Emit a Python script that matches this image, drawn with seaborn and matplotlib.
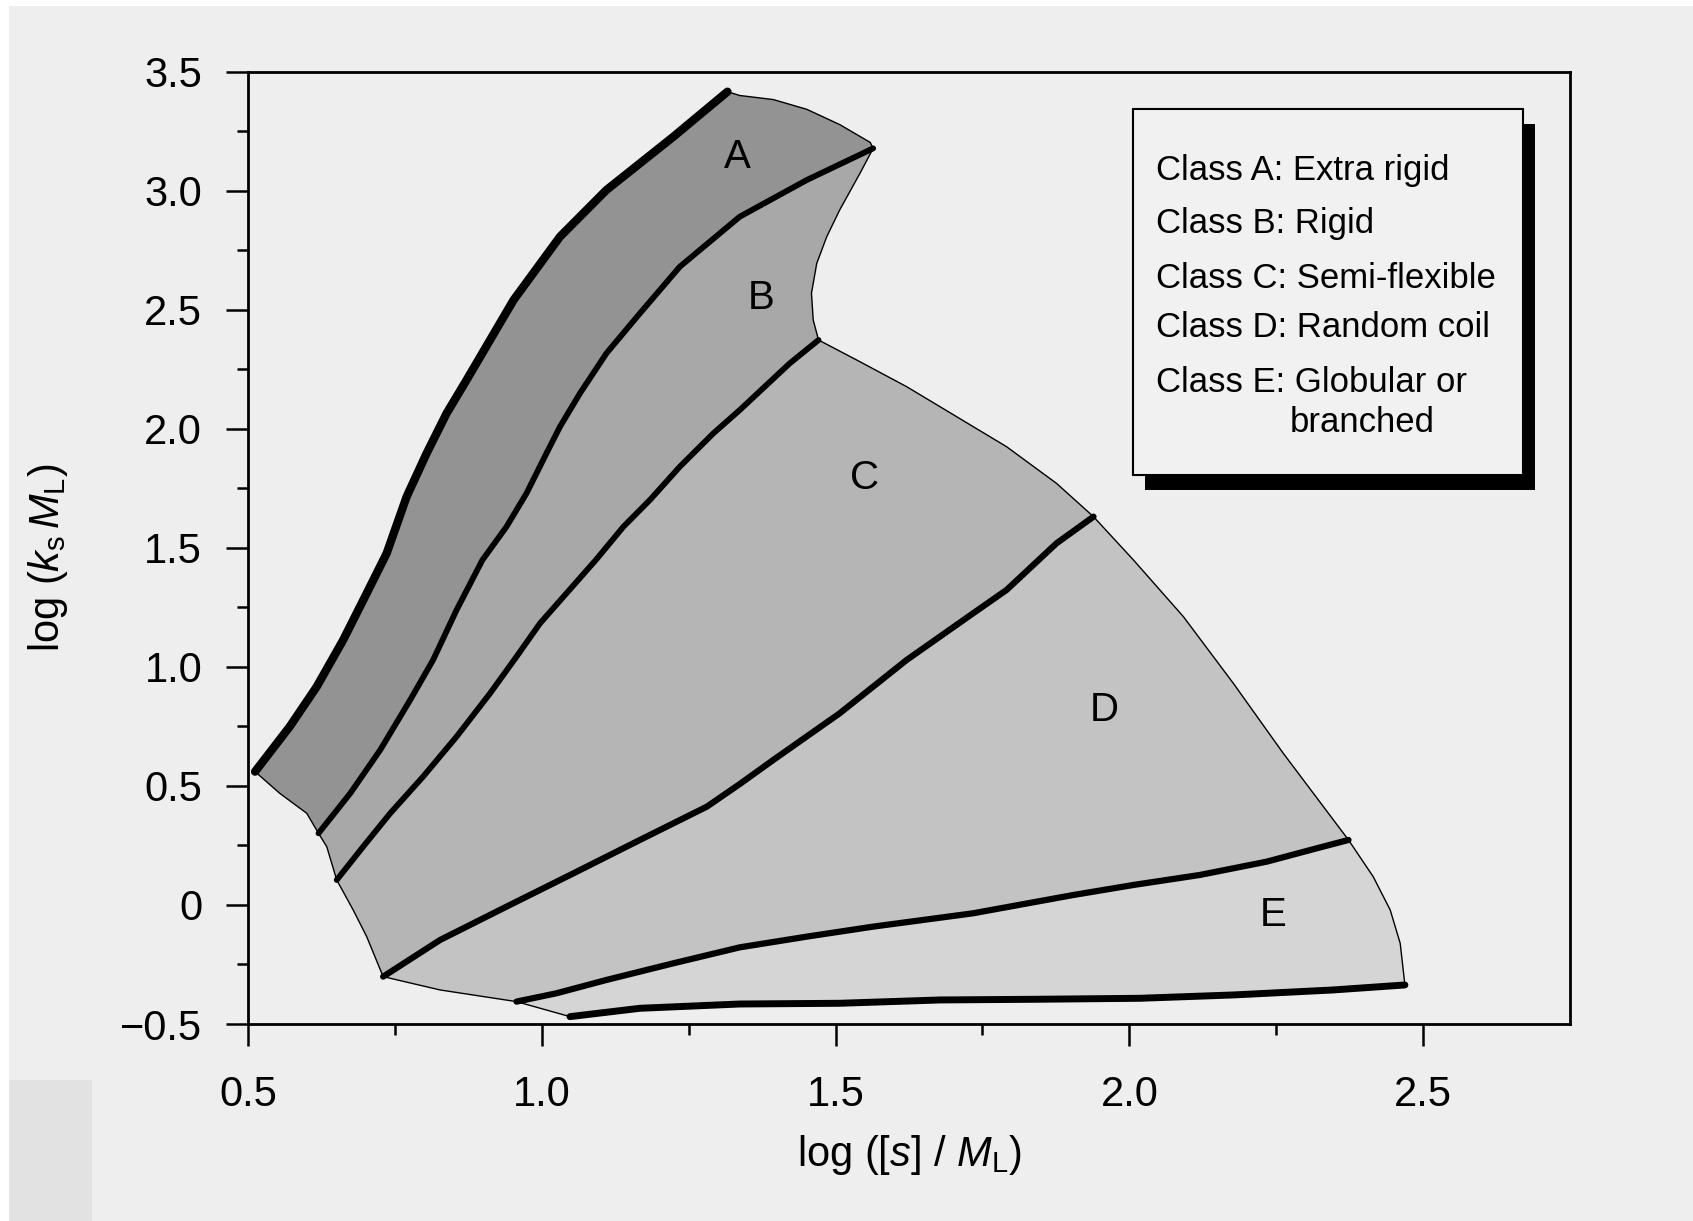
import numpy as np
import pandas as pd
import matplotlib
matplotlib.use('Agg')
import matplotlib.pyplot as plt
import seaborn as sns
from matplotlib.patches import Rectangle

# ---------------- data (data coordinates) ----------------
# thick boundary: outer left edge of class A (top tip -> bottom)
a_left_x = [1.316, 1.224, 1.110, 1.031, 0.952, 0.872, 0.838, 0.804, 0.770, 0.736, 0.702, 0.662, 0.617, 0.571, 0.512]
a_left_y = [3.416, 3.227, 3.003, 2.807, 2.541, 2.205, 2.065, 1.897, 1.715, 1.477, 1.309, 1.113, 0.917, 0.749, 0.560]
# thick boundary A/B (top -> bottom)
ab_x = [1.564, 1.451, 1.337, 1.235, 1.167, 1.110, 1.065, 1.031, 1.008, 0.974, 0.940, 0.899, 0.855, 0.815, 0.776, 0.725, 0.674, 0.620]
ab_y = [3.178, 3.045, 2.891, 2.681, 2.485, 2.317, 2.149, 2.009, 1.897, 1.729, 1.589, 1.449, 1.239, 1.029, 0.861, 0.651, 0.469, 0.301]
# thick boundary B/C (top -> bottom)
bc_x = [1.471, 1.422, 1.337, 1.292, 1.235, 1.184, 1.139, 1.092, 1.037, 0.997, 0.957, 0.912, 0.855, 0.798, 0.742, 0.696, 0.651]
bc_y = [2.373, 2.275, 2.079, 1.981, 1.841, 1.701, 1.589, 1.449, 1.295, 1.183, 1.043, 0.889, 0.707, 0.539, 0.385, 0.245, 0.105]
# thick boundary C/D (top right -> bottom left)
cd_x = [1.939, 1.876, 1.791, 1.734, 1.621, 1.507, 1.394, 1.337, 1.281, 1.167, 1.054, 0.940, 0.827, 0.730]
cd_y = [1.631, 1.519, 1.323, 1.225, 1.029, 0.805, 0.609, 0.508, 0.413, 0.273, 0.133, -0.007, -0.147, -0.301]
# thick boundary D/E (right -> left)
de_x = [2.373, 2.319, 2.234, 2.120, 2.007, 1.905, 1.734, 1.564, 1.451, 1.337, 1.224, 1.110, 1.025, 0.957]
de_y = [0.273, 0.238, 0.182, 0.126, 0.084, 0.042, -0.035, -0.091, -0.133, -0.178, -0.245, -0.315, -0.371, -0.406]
# thick lower edge of class E (right -> left)
ebot_x = [2.469, 2.347, 2.177, 2.018, 1.848, 1.678, 1.507, 1.337, 1.167, 1.048]
ebot_y = [-0.336, -0.357, -0.378, -0.392, -0.396, -0.399, -0.413, -0.416, -0.434, -0.469]

# thin outer edges, clockwise
atop_x = [1.316, 1.337, 1.394, 1.451, 1.507, 1.559, 1.564]
atop_y = [3.416, 3.400, 3.383, 3.342, 3.278, 3.203, 3.178]
bright_x = [1.564, 1.5415, 1.507, 1.485, 1.468, 1.459, 1.462, 1.471]
bright_y = [3.178, 3.073, 2.919, 2.807, 2.695, 2.569, 2.457, 2.373]
carc_x = [1.471, 1.536, 1.621, 1.706, 1.791, 1.876, 1.939]
carc_y = [2.373, 2.289, 2.177, 2.051, 1.925, 1.771, 1.631]
darc_x = [1.939, 2.007, 2.092, 2.177, 2.262, 2.373]
darc_y = [1.631, 1.449, 1.211, 0.931, 0.637, 0.273]
earc_x = [2.373, 2.415, 2.444, 2.461, 2.469]
earc_y = [0.273, 0.119, -0.021, -0.161, -0.336]
# thin lower-left edges
loa_x = [0.512, 0.554, 0.600, 0.620]
loa_y = [0.560, 0.469, 0.385, 0.301]
lob_x = [0.620, 0.634, 0.651]
lob_y = [0.301, 0.245, 0.105]
loc_x = [0.651, 0.679, 0.702, 0.730]
loc_y = [0.105, -0.021, -0.133, -0.301]
lod_x = [0.730, 0.827, 0.957]
lod_y = [-0.301, -0.357, -0.406]
loe_x = [0.957, 1.048]
loe_y = [-0.406, -0.469]

classes = ['A', 'B', 'C', 'D', 'E']
descriptions = ['Extra rigid', 'Rigid', 'Semi-flexible', 'Random coil', 'Globular or\nbranched']
label_x = [1.333, 1.374, 1.550, 1.958, 2.245]
label_y = [3.140, 2.548, 1.792, 0.819, -0.042]

x_ticks = [0.5, 1.0, 1.5, 2.0, 2.5]
x_ticklabels = ['0.5', '1.0', '1.5', '2.0', '2.5']
x_minor = [0.75, 1.25, 1.75, 2.25]
y_ticks = [-0.5, 0.0, 0.5, 1.0, 1.5, 2.0, 2.5, 3.0, 3.5]
y_ticklabels = ['\u22120.5', '0', '0.5', '1.0', '1.5', '2.0', '2.5', '3.0', '3.5']
y_minor = [-0.25, 0.25, 0.75, 1.25, 1.75, 2.25, 2.75, 3.25]

fill_colors = ['#939393', '#a8a8a8', '#b5b5b5', '#c3c3c3', '#d5d5d5']

# ---------------- style ----------------
sns.set_theme(style='ticks')
plt.rcParams['font.family'] = ['Liberation Sans', 'DejaVu Sans']
plt.rcParams['mathtext.fontset'] = 'custom'
plt.rcParams['mathtext.rm'] = 'Liberation Sans'
plt.rcParams['mathtext.it'] = 'Liberation Sans:italic'
plt.rcParams['mathtext.bf'] = 'Liberation Sans:bold'
plt.rcParams['axes.edgecolor'] = 'black'
plt.rcParams['xtick.color'] = 'black'
plt.rcParams['ytick.color'] = 'black'
plt.rcParams['text.color'] = 'black'
plt.rcParams['axes.labelcolor'] = 'black'

fig = plt.figure(figsize=(16.93, 12.21), dpi=100)
fig.patch.set_facecolor('white')
fig.add_artist(Rectangle((9 / 1693, 0), 1, 1 - 6 / 1221, transform=fig.transFigure,
                         facecolor='#eeeeee', edgecolor='none', zorder=-10))
fig.add_artist(Rectangle((9 / 1693, 0), 83 / 1693, 141 / 1221, transform=fig.transFigure,
                         facecolor='#e2e2e2', edgecolor='none', zorder=-9))

ax = fig.add_axes([248 / 1693, 1 - 1024 / 1221, 1322 / 1693, 952.3 / 1221])
ax.set_facecolor('none')


def rev(a):
    return list(a)[::-1]


regions = [
    (a_left_x + loa_x[1:] + rev(ab_x)[1:] + rev(atop_x)[1:-1],
     a_left_y + loa_y[1:] + rev(ab_y)[1:] + rev(atop_y)[1:-1]),
    (ab_x + lob_x[1:] + rev(bc_x)[1:] + rev(bright_x)[1:-1],
     ab_y + lob_y[1:] + rev(bc_y)[1:] + rev(bright_y)[1:-1]),
    (bc_x + loc_x[1:] + rev(cd_x)[1:] + rev(carc_x)[1:-1],
     bc_y + loc_y[1:] + rev(cd_y)[1:] + rev(carc_y)[1:-1]),
    (cd_x + lod_x[1:] + rev(de_x)[1:] + rev(darc_x)[1:-1],
     cd_y + lod_y[1:] + rev(de_y)[1:] + rev(darc_y)[1:-1]),
    (de_x + loe_x[1:] + rev(ebot_x)[1:] + rev(earc_x)[1:-1],
     de_y + loe_y[1:] + rev(ebot_y)[1:] + rev(earc_y)[1:-1]),
]
for (px, py), col in zip(regions, fill_colors):
    ax.fill(px, py, color=col, lw=0, zorder=1)

# thin outer outline
for tx, ty in [(atop_x, atop_y), (bright_x, bright_y), (carc_x, carc_y), (darc_x, darc_y),
               (earc_x, earc_y), (loa_x, loa_y), (lob_x, lob_y), (loc_x, loc_y),
               (lod_x, lod_y), (loe_x, loe_y)]:
    sns.lineplot(x=tx, y=ty, sort=False, estimator=None, color='black', lw=1.0, ax=ax, zorder=2)

# thick class boundaries
for tx, ty, w in [(a_left_x, a_left_y, 6.0), (ab_x, ab_y, 4.2), (bc_x, bc_y, 4.2),
                  (cd_x, cd_y, 4.5), (de_x, de_y, 4.5), (ebot_x, ebot_y, 5.0)]:
    sns.lineplot(x=tx, y=ty, sort=False, estimator=None, color='black', lw=w, ax=ax, zorder=3)

for c, lx, ly in zip(classes, label_x, label_y):
    ax.text(lx, ly, c, fontsize=29, ha='center', va='center', zorder=4)

ax.set_xlim(0.5, 2.75)
ax.set_ylim(-0.5, 3.5)
ax.set_xticks(x_ticks, x_ticklabels, fontsize=30)
ax.set_xticks(x_minor, minor=True)
ax.set_yticks(y_ticks, y_ticklabels, fontsize=30)
ax.set_yticks(y_minor, minor=True)
ax.tick_params(axis='both', which='major', direction='out', length=16, width=1.8)
ax.tick_params(axis='both', which='minor', direction='out', length=8, width=1.8)
ax.tick_params(axis='x', which='major', pad=21)
ax.tick_params(axis='y', which='major', pad=17)
ax.tick_params(top=False, right=False, which='both')
for sp in ax.spines.values():
    sp.set_visible(True)
    sp.set_linewidth(2.0)
    sp.set_color('black')

ax.set_xlabel(r'log ([$s$] / $M_{\mathrm{L}}$)', fontsize=30)
ax.xaxis.set_label_coords(0.5, -0.138)
ax.xaxis.label.set_va('center')
ax.set_ylabel(r'log ($k_{\mathrm{s}}\,M_{\mathrm{L}}$)', fontsize=30)
ax.yaxis.set_label_coords(-0.151, 0.49)
ax.yaxis.label.set_va('center')

# legend box with drop shadow
ax.add_patch(Rectangle((0.6785, 0.5607), 0.295, 0.3844, transform=ax.transAxes,
                       facecolor='black', edgecolor='none', zorder=5, clip_on=False))
ax.add_patch(Rectangle((0.6694, 0.5765), 0.2951, 0.3843, transform=ax.transAxes,
                       facecolor='#f1f1f1', edgecolor='black', lw=1.5, zorder=6, clip_on=False))
leg_y = [0.8962, 0.8403, 0.7825, 0.7318, 0.674]
for c, d, yy in zip(classes, descriptions, leg_y):
    lines = d.split('\n')
    ax.text(0.6868, yy, f'Class {c}: {lines[0]}', transform=ax.transAxes, fontsize=25,
            ha='left', va='center', zorder=7)
    for k, extra in enumerate(lines[1:], start=1):
        ax.text(0.788, yy - 0.0424 * k, extra, transform=ax.transAxes, fontsize=25,
                ha='left', va='center', zorder=7)

fig.savefig('out.png', dpi=100, facecolor=fig.get_facecolor())
